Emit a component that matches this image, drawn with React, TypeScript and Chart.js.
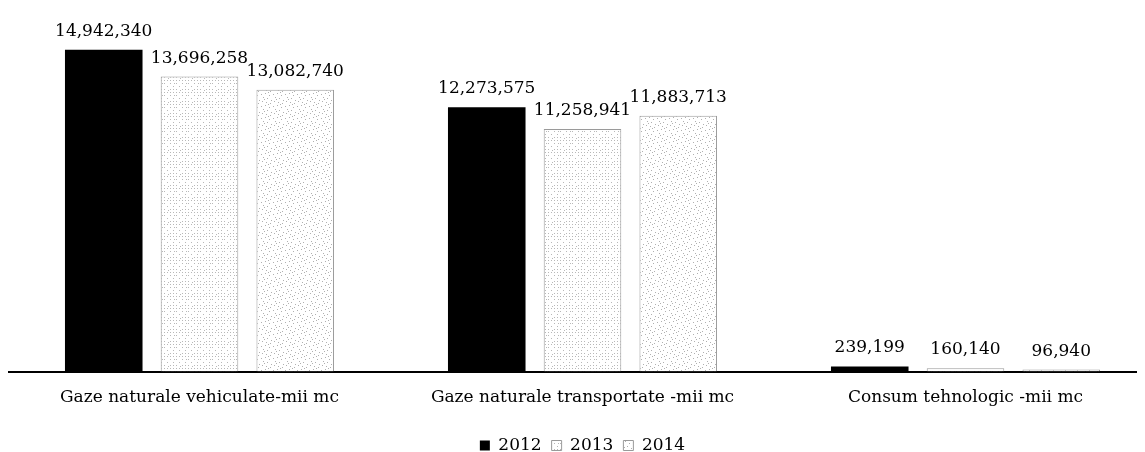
import React, { useEffect, useRef } from "react";
import { Chart, registerables } from "chart.js";

Chart.register(...registerables);

const categories = [
  "Gaze naturale vehiculate-mii mc",
  "Gaze naturale transportate -mii mc",
  "Consum tehnologic -mii mc",
];
const series2012 = [14942340, 12273575, 239199];
const series2013 = [13696258, 11258941, 160140];
const series2014 = [13082740, 11883713, 96940];
const seriesNames = ["2012", "2013", "2014"];

function makePattern(kind: number): CanvasPattern | string {
  const c = document.createElement("canvas");
  c.width = 12;
  c.height = 12;
  const g = c.getContext("2d");
  if (!g) return "#eee";
  g.fillStyle = "#ffffff";
  g.fillRect(0, 0, 12, 12);
  if (kind === 0) {
    g.fillStyle = "#b8b8b8";
    const pts = [
      [0, 0], [3, 0], [6, 0], [9, 0], [0, 3], [6, 3], [3, 6], [9, 6],
      [0, 9], [6, 9], [9, 9], [4, 10], [10, 3],
    ];
    pts.forEach(([x, y]) => g.fillRect(x, y, 1, 1));
  } else {
    g.fillStyle = "#b0b0b0";
    const pts = [
      [1, 2], [5, 1], [9, 3], [3, 5], [7, 6], [11, 8], [2, 9], [6, 10],
      [10, 11], [8, 0], [4, 7],
    ];
    pts.forEach(([x, y]) => g.fillRect(x, y, 1, 1));
  }
  return g.createPattern(c, "repeat") as CanvasPattern;
}

const labelPlugin = {
  id: "valueLabels",
  afterDatasetsDraw(chart: any) {
    const ctx = chart.ctx;
    ctx.save();
    ctx.font = "17px 'DejaVu Serif'";
    ctx.fillStyle = "#000";
    ctx.textAlign = "center";
    ctx.textBaseline = "alphabetic";
    chart.data.datasets.forEach((ds: any, i: number) => {
      const meta = chart.getDatasetMeta(i);
      meta.data.forEach((el: any, j: number) => {
        const v = ds.data[j] as number;
        ctx.fillText(v.toLocaleString("en-US"), el.x, el.y - 14);
      });
    });
    ctx.restore();
  },
};

export default function App() {
  const ref = useRef<HTMLCanvasElement | null>(null);
  useEffect(() => {
    if (!ref.current) return;
    const p2013 = makePattern(0);
    const p2014 = makePattern(1);
    const chart = new Chart(ref.current, {
      type: "bar",
      data: {
        labels: categories,
        datasets: [
          {
            label: seriesNames[0],
            data: series2012,
            backgroundColor: "#000000",
            borderColor: "#000000",
            borderWidth: 0,
          },
          {
            label: seriesNames[1],
            data: series2013,
            backgroundColor: p2013 as any,
            borderColor: "#9a9a9a",
            borderWidth: 1,
            borderSkipped: "bottom",
          },
          {
            label: seriesNames[2],
            data: series2014,
            backgroundColor: p2014 as any,
            borderColor: "#9a9a9a",
            borderWidth: 1,
            borderSkipped: "bottom",
          },
        ],
      },
      options: {
        animation: false,
        responsive: false,
        maintainAspectRatio: false,
        layout: { padding: { top: 19, left: 0, right: 0, bottom: 0 } },
        datasets: {
          bar: { categoryPercentage: 0.75, barPercentage: 0.81 },
        },
        scales: {
          x: {
            grid: { display: false },
            border: { display: true, color: "#000", width: 2 },
            ticks: {
              color: "#000",
              font: { family: "'DejaVu Serif'", size: 17 },
              padding: 8,
            },
            afterFit: (axis: any) => {
              axis.height += 11;
            },
          },
          y: {
            display: false,
            min: 0,
            max: 16000000,
          },
        },
        plugins: {
          tooltip: { enabled: false },
          legend: {
            position: "bottom",
            labels: {
              color: "#000",
              font: { family: "'DejaVu Serif'", size: 17 },
              boxWidth: 10,
              boxHeight: 10,
              padding: 10,
            },
          },
        },
      },
      plugins: [labelPlugin],
    });
    return () => chart.destroy();
  }, []);
  return (
    <div style={{ width: "1137px", height: "444px", overflow: "hidden" }}>
      <canvas ref={ref} width={1149} height={456} style={{ display: "block" }} />
    </div>
  );
}
